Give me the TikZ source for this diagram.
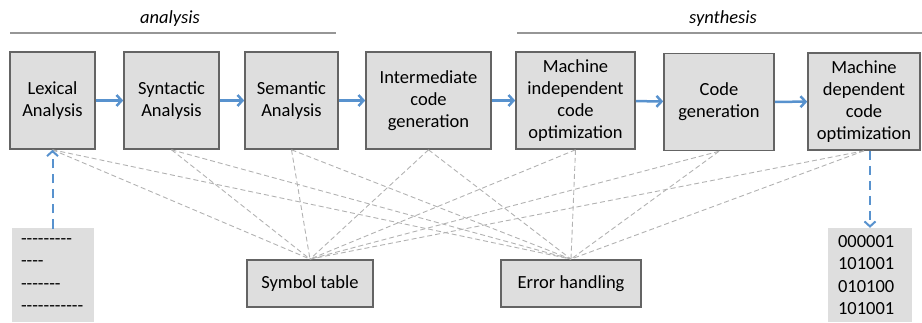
\documentclass[tikz,border=0pt]{standalone}
\usepackage{fontspec}
\setmainfont{Carlito}
\usetikzlibrary{arrows.meta}
\definecolor{flowblue}{RGB}{88,146,206}
\definecolor{boxgray}{RGB}{222,222,222}
\definecolor{edgegray}{RGB}{100,100,100}
\definecolor{linkgray}{RGB}{178,178,178}
\definecolor{rulegray}{RGB}{150,150,150}

\begin{document}
\begin{tikzpicture}[x=1pt, y=-1pt,
    phase/.style={draw=edgegray, line width=1.6pt, fill=boxgray, align=center, inner sep=0pt, minimum height=97pt, font=\fontsize{18.5}{22}\selectfont},
    aux/.style={draw=edgegray, line width=1.8pt, fill=boxgray, inner sep=0pt, minimum height=47pt, font=\fontsize{18.5}{22}\selectfont},
    stream/.style={fill=boxgray, inner sep=0pt, align=left, text width=64pt, minimum height=94pt, font=\fontsize{18.5}{22.3}\selectfont},
    flow/.style={-{Straight Barb[length=5pt, width=11pt]}, flowblue, line width=2.5pt},
    io/.style={-{Straight Barb[length=5pt, width=11pt]}, flowblue, line width=2pt, dash pattern=on 9pt off 6pt},
    link/.style={linkgray, line width=0.9pt, dash pattern=on 5pt off 3pt},
]
\useasboundingbox (0,0) rectangle (922,322);

% Phase headings
\node[font=\fontsize{18.5}{22}\selectfont\itshape] (ana) at (170,19) {analysis};
\node[font=\fontsize{18.5}{22}\selectfont\itshape] (synth) at (723,19) {synthesis};
\draw[rulegray, line width=1.5pt] (10,33) -- (336,33);
\draw[rulegray, line width=1.5pt] (517,33) -- (922,33);

% Compiler phases
\node[phase, minimum width=85pt] (lex) at (52.5,100.5) {Lexical\\Analysis};
\node[phase, minimum width=95pt] (stx) at (171.5,100.5) {Syntactic\\Analysis};
\node[phase, minimum width=93pt] (sem) at (291.5,100.5) {Semantic\\Analysis};
\node[phase, minimum width=125pt] (inter) at (428.5,100.5) {Intermediate\\code\\generation};
\node[phase, minimum width=119pt] (mind) at (575.5,100.5) {Machine\\independent\\code\\optimization};
\node[phase, minimum width=110pt] (cgen) at (719,102) {Code\\generation};
\node[phase, minimum width=112pt] (mdep) at (864,101.5) {Machine\\dependent\\code\\optimization};

% Shared helpers
\node[aux, minimum width=126pt] (sym) at (310,283.5) {Symbol table};
\node[aux, minimum width=140pt] (err) at (571,283.5) {Error handling};

% Source and target code
\node[stream, minimum width=82pt] (src) at (53,275) {-{}-{}-{}-{}-{}-{}-{}-{}-\\-{}-{}-{}-\\-{}-{}-{}-{}-{}-{}-\\-{}-{}-{}-{}-{}-{}-{}-{}-{}-{}-};
\node[stream, minimum width=84pt] (out) at (870,275) {000001\\101001\\010100\\101001};

% Links to the symbol table
\draw[link] (lex.south) -- (sym.north);
\draw[link] (stx.south) -- (sym.north);
\draw[link] (sem.south) -- (sym.north);
\draw[link] (inter.south) -- (sym.north);
\draw[link] (mind.south) -- (sym.north);
\draw[link] (cgen.south) -- (sym.north);
\draw[link] (mdep.south) -- (sym.north);

% Links to error handling
\draw[link] (lex.south) -- (err.north);
\draw[link] (stx.south) -- (err.north);
\draw[link] (sem.south) -- (err.north);
\draw[link] (inter.south) -- (err.north);
\draw[link] (mind.south) -- (err.north);
\draw[link] (cgen.south) -- (err.north);
\draw[link] (mdep.south) -- (err.north);

% Pipeline
\draw[flow] (lex) -- (stx);
\draw[flow] (stx) -- (sem);
\draw[flow] (sem) -- (inter);
\draw[flow] (inter) -- (mind);
\draw[flow] (mind) -- (cgen);
\draw[flow] (cgen) -- (mdep);

% Input and output
\draw[io] (src.north) -- (lex.south |- src.north) -- (lex.south);
\draw[io] (mdep.south -| out.north) -- (out.north);
\end{tikzpicture}
\end{document}
